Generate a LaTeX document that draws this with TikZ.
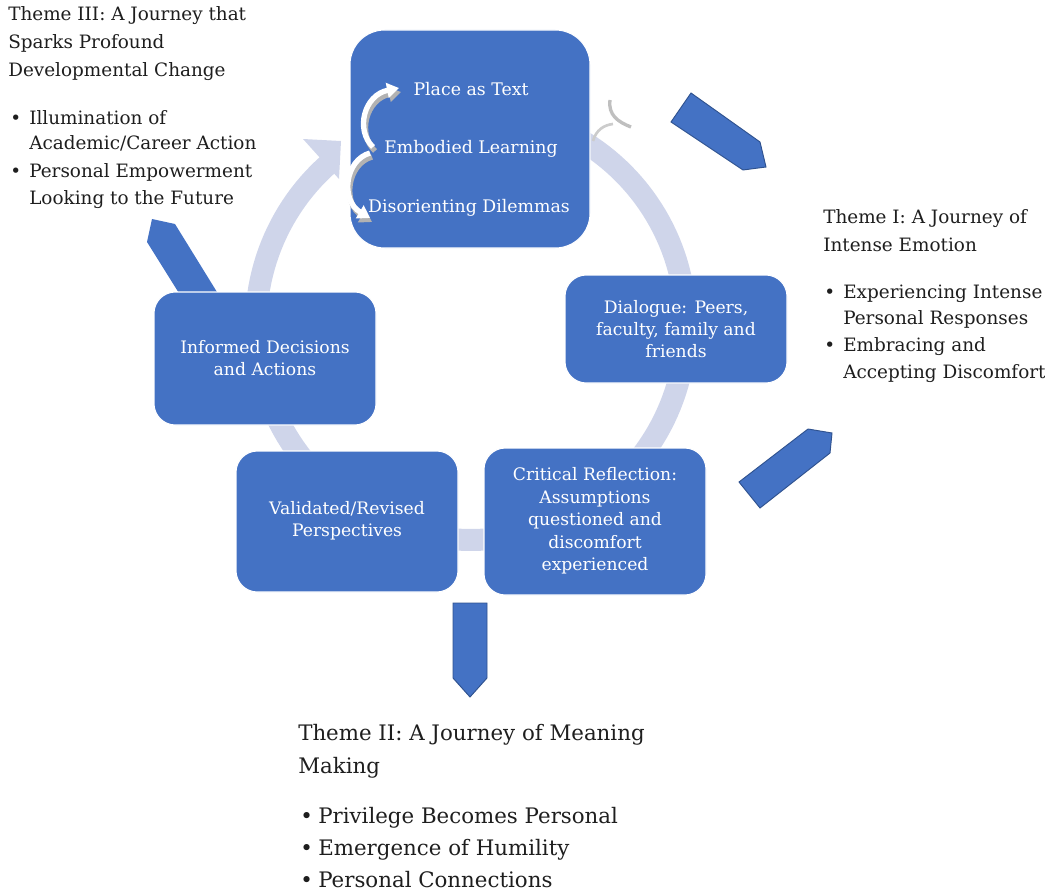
\documentclass[tikz,border=0pt]{standalone}
\usepackage{fontspec}
\setmainfont{DejaVu Serif}
\usetikzlibrary{arrows.meta}
\definecolor{boxblue}{HTML}{4472C4}
\definecolor{boxedge}{HTML}{2F528F}
\definecolor{ringc}{HTML}{CFD5EA}
\definecolor{txtc}{HTML}{1E1E1E}
\tikzset{
  stagebox/.style={fill=boxblue, draw=white, line width=0.8pt, rounded corners=16pt, inner sep=0pt},
  boxtext/.style={text=white, font=\fontsize{12.9}{16.8}\selectfont, align=center},
  intext/.style={text=white, font=\fontsize{13}{14}\selectfont, inner sep=0pt},
  themetext/.style={text=txtc, font=\fontsize{13.8}{16}\selectfont, anchor=base west, inner sep=0pt},
  themebig/.style={text=txtc, font=\fontsize{16}{18}\selectfont, anchor=base west, inner sep=0pt},
  blockarrow/.style={fill=boxblue, draw=boxedge, line width=0.7pt, line join=miter},
  whitearrow/.style={white, line width=4pt, -{Triangle[length=9pt,width=11pt]}},
  shadowarrow/.style={black!30, line width=4pt, -{Triangle[length=9pt,width=11pt]}}
}
\begin{document}
\begin{tikzpicture}[x=0.75pt,y=-0.75pt]
\useasboundingbox (0,0) rectangle (1045,892);
% ring
\draw[ringc, line width=16.5pt] plot[domain=-62:229, samples=150] ({471+215*cos(\x)},{325+215*sin(\x)});
\fill[ringc] (303,139) -- (341,141) -- (339,179) -- cycle;
% gray arcs near top right
\draw[black!25, line width=2.5pt] (610,100) .. controls (608,115) and (618,122) .. (631,127);
\draw[black!20, line width=2pt] (593,141) .. controls (596,130) and (604,125) .. (613,124);
% left block arrow (tail behind box)
\fill[boxblue] (152,219) -- (175,224) -- (225,305) -- (197,322) -- (147,242) -- cycle;
% boxes
\node[stagebox, rounded corners=26pt, minimum width=180pt, minimum height=163.5pt] (top) at (470,139) {};
\node[stagebox, minimum width=166.5pt, minimum height=81pt] (dia) at (676,329) {};
\node[boxtext] (diat) at (676,329) {Dialogue: Peers,\\faculty, family and\\friends};
\node[stagebox, minimum width=166.5pt, minimum height=110.25pt] (crit) at (595,521.5) {};
\node[boxtext] (critt) at (595,521) {Critical Reflection:\\Assumptions\\questioned and\\discomfort\\experienced};
\node[stagebox, minimum width=166.5pt, minimum height=105.75pt] (val) at (347,521.5) {};
\node[boxtext] (valt) at (347,521) {Validated/Revised\\Perspectives};
\node[stagebox, minimum width=166.5pt, minimum height=99.75pt] (inf) at (265,358.5) {};
\node[boxtext] (inft) at (265,358) {Informed Decisions\\and Actions};
% top box texts
\node[intext] (place) at (471,89) {Place as Text};
\node[intext] (emb) at (471,149) {Embodied Learning};
\node[intext] (dis) at (469,208) {Disorienting Dilemmas};
% small white arrows
\draw[shadowarrow] (375,151) .. controls (357,134) and (366,99) .. (401,92);
\draw[whitearrow] (373,147) .. controls (355,130) and (364,95) .. (399,88);
\draw[shadowarrow] (372,157) .. controls (347,164) and (342,204) .. (372,222);
\draw[whitearrow] (370,153) .. controls (345,160) and (340,200) .. (370,218);
% block arrows
\draw[blockarrow] (671,122) -- (691,93) -- (760,142) -- (766,167) -- (743,170) -- cycle;
\draw[blockarrow] (739,482) -- (808,429) -- (832,433) -- (830,453) -- (760,508) -- cycle;
\draw[blockarrow] (453,603) -- (487,603) -- (487,678) -- (470,697) -- (453,678) -- cycle;
% Theme III
\node[themetext] (t3a) at (8,21) {Theme III: A Journey that};
\node[themetext] (t3b) at (8,49) {Sparks Profound};
\node[themetext] (t3c) at (8,77) {Developmental Change};
\node[themetext] (t3d) at (10,124) {\textbullet};
\node[themetext] (t3e) at (29,124) {Illumination of};
\node[themetext] (t3f) at (29,149) {Academic/Career Action};
\node[themetext] (t3g) at (10,177) {\textbullet};
\node[themetext] (t3h) at (29,177) {Personal Empowerment};
\node[themetext] (t3i) at (29,204) {Looking to the Future};
% Theme I
\node[themetext] (t1a) at (823,223) {Theme I: A Journey of};
\node[themetext] (t1b) at (823,251) {Intense Emotion};
\node[themetext] (t1c) at (824,298) {\textbullet};
\node[themetext] (t1d) at (843,298) {Experiencing Intense};
\node[themetext] (t1e) at (843,324) {Personal Responses};
\node[themetext] (t1f) at (824,351) {\textbullet};
\node[themetext] (t1g) at (843,351) {Embracing and};
\node[themetext] (t1h) at (843,378) {Accepting Discomfort};
% Theme II
\node[themebig] (t2a) at (298,740) {Theme II: A Journey of Meaning};
\node[themebig] (t2b) at (298,773) {Making};
\node[themebig] (t2c) at (300,823) {\textbullet};
\node[themebig] (t2d) at (318,823) {Privilege Becomes Personal};
\node[themebig] (t2e) at (300,855) {\textbullet};
\node[themebig] (t2f) at (318,855) {Emergence of Humility};
\node[themebig] (t2g) at (300,887) {\textbullet};
\node[themebig] (t2h) at (318,887) {Personal Connections};
\end{tikzpicture}
\end{document}
